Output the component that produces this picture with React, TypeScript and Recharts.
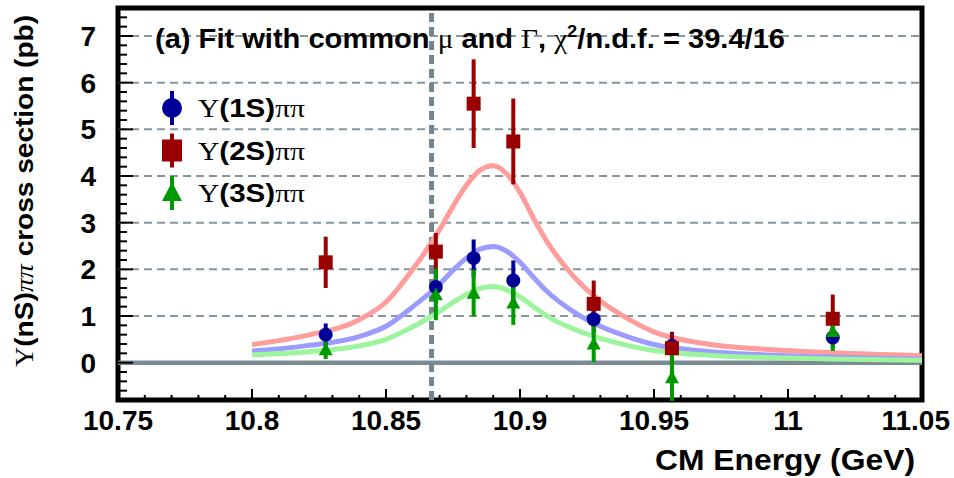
import React from 'react';
import {
  ComposedChart,
  Line,
  Scatter,
  ErrorBar,
  XAxis,
  YAxis,
  ReferenceLine,
  ReferenceArea,
} from 'recharts';

// scan energies (GeV) of the measured points
const energies = [10.8275, 10.8686, 10.8827, 10.8975, 10.9275, 10.9567, 11.0167];

// cross sections (pb) and errors
const ups1S = [0.6, 1.62, 2.24, 1.76, 0.93, 0.36, 0.54];
const ups1SErr = [0.24, 0.35, 0.4, 0.43, 0.3, 0.3, 0.22];
const ups2S = [2.15, 2.38, 5.55, 4.74, 1.26, 0.31, 0.94];
const ups2SErr = [0.55, 0.4, 0.95, 0.92, 0.5, 0.33, 0.52];
const ups3S = [0.28, 1.46, 1.49, 1.28, 0.4, -0.32, 0.67];
const ups3SErr = [0.2, 0.55, 0.5, 0.47, 0.38, 0.5, 0.42];

const fitEnergies = [
  10.8, 10.82, 10.84, 10.85, 10.86, 10.87, 10.875, 10.88, 10.885, 10.89, 10.895,
  10.9, 10.905, 10.91, 10.92, 10.93, 10.94, 10.95, 10.97, 11.0, 11.05,
];
const fit2S = [
  0.39, 0.58, 0.92, 1.3, 2.0, 2.85, 3.35, 3.8, 4.12, 4.22, 4.05,
  3.65, 3.1, 2.6, 1.85, 1.32, 0.95, 0.66, 0.4, 0.26, 0.15,
];
const fit1S = [
  0.25, 0.36, 0.56, 0.78, 1.2, 1.68, 1.98, 2.24, 2.43, 2.49, 2.39,
  2.15, 1.83, 1.53, 1.09, 0.78, 0.56, 0.39, 0.24, 0.15, 0.08,
];
const fit3S = [
  0.17, 0.23, 0.36, 0.5, 0.77, 1.1, 1.29, 1.46, 1.59, 1.63, 1.56,
  1.41, 1.2, 1.0, 0.72, 0.52, 0.37, 0.26, 0.16, 0.1, 0.05,
];

const xMajor = [10.75, 10.8, 10.85, 10.9, 10.95, 11.0, 11.05];
const xMajorLabels = ['10.75', '10.8', '10.85', '10.9', '10.95', '11', '11.05'];
const yMajor = [0, 1, 2, 3, 4, 5, 6, 7];
const gridValues = [1, 2, 3, 4, 5, 6, 7];
const upsilon5S = 10.867;

const xTicks = Array.from({ length: 31 }, (_, i) => Math.round((10.75 + i * 0.01) * 100) / 100);
const yTicks = Array.from({ length: 43 }, (_, i) => Math.round((-0.8 + i * 0.2) * 10) / 10);

const points = (ys: number[], errs: number[]) =>
  energies.map((x, i) => ({ x, y: ys[i], err: errs[i] }));
const curve = (ys: number[]) => fitEnergies.map((x, i) => ({ x, y: ys[i] }));

const BLUE = '#000099';
const RED = '#990000';
const GREEN = '#009900';
const SANS = '"Liberation Sans", Arial, sans-serif';
const SERIF = '"Liberation Serif", "Times New Roman", serif';

const XTick = (props: any) => {
  const { x, y, payload } = props;
  const idx = xMajor.findIndex((v) => Math.abs(v - payload.value) < 1e-6);
  const major = idx >= 0;
  const last = idx === xMajor.length - 1;
  return (
    <g>
      <line x1={x} x2={x} y1={y} y2={y - (major ? 11 : 5)} stroke="#000" strokeWidth={2} />
      {major && (
        <text
          x={last ? x + 28 : x}
          y={y + 30}
          textAnchor={last ? 'end' : 'middle'}
          fontFamily={SANS}
          fontWeight="bold"
          fontSize={28}
          fill="#000"
        >
          {xMajorLabels[idx]}
        </text>
      )}
    </g>
  );
};

const YTick = (props: any) => {
  const { x, y, payload } = props;
  const major = yMajor.some((v) => Math.abs(v - payload.value) < 1e-6);
  return (
    <g>
      <line x1={x} x2={x + (major ? 15 : 9)} y1={y} y2={y} stroke="#000" strokeWidth={2} />
      {major && (
        <text x={x - 22} y={y + 10} textAnchor="end" fontFamily={SANS} fontWeight="bold" fontSize={28} fill="#000">
          {Math.round(payload.value)}
        </text>
      )}
    </g>
  );
};

const circleShape = (size: number, color: string) => (p: any) =>
  <circle cx={p.cx} cy={p.cy} r={size} fill={color} />;
const squareShape = (size: number, color: string) => (p: any) =>
  <rect x={p.cx - size} y={p.cy - size} width={size * 2} height={size * 2} fill={color} />;
const triangleShape = (size: number, color: string) => (p: any) =>
  (
    <polygon
      points={`${p.cx},${p.cy - size} ${p.cx - size},${p.cy + size * 0.8} ${p.cx + size},${p.cy + size * 0.8}`}
      fill={color}
    />
  );

const legendItems = [
  { n: '1S', color: BLUE, kind: 'circle' },
  { n: '2S', color: RED, kind: 'square' },
  { n: '3S', color: GREEN, kind: 'triangle' },
];

const Overlay = () => (
  <svg width={954} height={478} style={{ position: 'absolute', left: 0, top: 0, pointerEvents: 'none' }}>
    <text x={155} y={48} fontFamily={SANS} fontWeight="bold" fontSize={27} fill="#000" textLength={630} lengthAdjust="spacingAndGlyphs">
      (a) Fit with common <tspan fontFamily={SERIF} fontWeight="normal">μ</tspan> and{' '}
      <tspan fontFamily={SERIF} fontWeight="normal">Γ</tspan>,{' '}
      <tspan fontFamily={SERIF} fontWeight="normal">χ</tspan>
      <tspan dy={-11} fontSize={17}>2</tspan>
      <tspan dy={11}>/n.d.f. = 39.4/16</tspan>
    </text>

    <text transform="translate(33,191) rotate(-90)" textAnchor="middle" fontFamily={SANS} fontWeight="bold" fontSize={25} fill="#000" textLength={352} lengthAdjust="spacingAndGlyphs">
      <tspan fontFamily={SERIF} fontWeight="normal">Υ</tspan>(nS)
      <tspan fontFamily={SERIF} fontWeight="normal" fontStyle="italic">ππ</tspan> cross section (pb)
    </text>

    <text x={915} y={470} textAnchor="end" fontFamily={SANS} fontWeight="bold" fontSize={30} fill="#000" textLength={260} lengthAdjust="spacingAndGlyphs">
      CM Energy (GeV)
    </text>

    {legendItems.map((it, i) => {
      const cy = 108 + i * 42.5;
      const cx = 172;
      return (
        <g key={it.n}>
          <line x1={cx} x2={cx} y1={cy - 17} y2={cy + 17} stroke={it.color} strokeWidth={4} />
          {it.kind === 'circle' && <circle cx={cx} cy={cy} r={10} fill={it.color} />}
          {it.kind === 'square' && <rect x={cx - 10} y={cy - 11} width={20} height={22} fill={it.color} />}
          {it.kind === 'triangle' && (
            <polygon points={`${cx},${cy - 11} ${cx - 10},${cy + 8} ${cx + 10},${cy + 8}`} fill={it.color} />
          )}
          <text x={198} y={cy + 9} fontFamily={SANS} fontWeight="bold" fontSize={25} fill="#000" textLength={107} lengthAdjust="spacingAndGlyphs">
            <tspan fontFamily={SERIF} fontWeight="normal">Υ</tspan>({it.n})
            <tspan fontFamily={SERIF} fontWeight="normal">ππ</tspan>
          </text>
        </g>
      );
    })}
  </svg>
);

export default function App() {
  return (
    <div style={{ position: 'absolute', left: 0, top: 0, width: 954, height: 478, background: '#fff' }}>
      <ComposedChart width={954} height={478} margin={{ top: 8, right: 32, bottom: 0, left: 58 }}>
        <XAxis
          dataKey="x"
          type="number"
          domain={[10.75, 11.05]}
          ticks={xTicks}
          interval={0}
          tick={<XTick />}
          tickSize={0}
          tickMargin={0}
          axisLine={false}
          height={78}
          allowDataOverflow
        />
        <YAxis
          type="number"
          domain={[-0.8, 7.6]}
          ticks={yTicks}
          interval={0}
          tick={<YTick />}
          tickSize={0}
          tickMargin={0}
          axisLine={false}
          width={60}
          allowDataOverflow
        />
        {gridValues.map((v) => (
          <ReferenceLine key={v} y={v} stroke="#8797a0" strokeWidth={2} strokeDasharray="8 5" />
        ))}
        <ReferenceLine y={0} stroke="#7a8b93" strokeWidth={4.5} />
        <ReferenceLine x={upsilon5S} stroke="#74858e" strokeWidth={5} strokeDasharray="9 5" />

        <Line data={curve(fit2S)} dataKey="y" type="monotone" stroke="#ff9c9c" strokeWidth={5} dot={false} isAnimationActive={false} />
        <Line data={curve(fit1S)} dataKey="y" type="monotone" stroke="#9c9cff" strokeWidth={5} dot={false} isAnimationActive={false} />
        <Line data={curve(fit3S)} dataKey="y" type="monotone" stroke="#9cf59c" strokeWidth={5} dot={false} isAnimationActive={false} />

        <Scatter data={points(ups1S, ups1SErr)} dataKey="y" shape={circleShape(7, BLUE)} isAnimationActive={false}>
          <ErrorBar dataKey="err" direction="y" width={0} stroke={BLUE} strokeWidth={4} />
        </Scatter>
        <Scatter data={points(ups2S, ups2SErr)} dataKey="y" shape={squareShape(7, RED)} isAnimationActive={false}>
          <ErrorBar dataKey="err" direction="y" width={0} stroke={RED} strokeWidth={4} />
        </Scatter>
        <Scatter data={points(ups3S, ups3SErr)} dataKey="y" shape={triangleShape(7, GREEN)} isAnimationActive={false}>
          <ErrorBar dataKey="err" direction="y" width={0} stroke={GREEN} strokeWidth={4} />
        </Scatter>

        <ReferenceArea x1={10.75} x2={11.05} y1={-0.8} y2={7.6} fill="none" stroke="#000" strokeWidth={5} ifOverflow="visible" />
      </ComposedChart>
      <Overlay />
    </div>
  );
}
